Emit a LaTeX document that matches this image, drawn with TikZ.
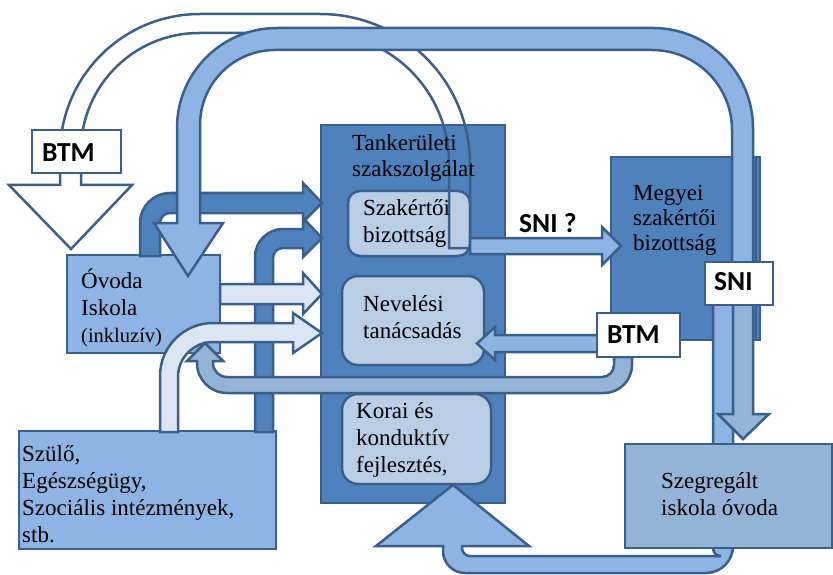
\documentclass[tikz,border=0pt]{standalone}
\usepackage{fontspec}
\setmainfont{Liberation Serif}
\newfontfamily\btmfont{Carlito}
\definecolor{bcol}{HTML}{3A5F8B}
\definecolor{dkb}{HTML}{4F81BD}
\definecolor{ltb}{HTML}{8EB4E3}
\definecolor{gyb}{HTML}{95B3D7}
\definecolor{inb}{HTML}{B9CDE5}
\definecolor{plb}{HTML}{DCE6F2}
\begin{document}
\begin{tikzpicture}[x=1pt,y=-1pt,
  bd/.style={draw=bcol, line width=2.5pt, line join=miter},
  txt/.style={anchor=base west, inner sep=0pt, align=left, font=\fontsize{23}{27}\selectfont},
  lbl/.style={anchor=base west, inner sep=0pt, font=\btmfont\bfseries\fontsize{27.5}{30}\selectfont}]
\useasboundingbox (0,0) rectangle (833,575);
% boxes
\draw[bd, fill=dkb] (321,125) rectangle (505,503);
\draw[bd, fill=inb, rounded corners=12pt] (348,191) rectangle (470,256);
\draw[bd, fill=inb, rounded corners=16pt] (342,276) rectangle (484,365);
\draw[bd, fill=inb, rounded corners=16pt] (342,394) rectangle (491,484);
\draw[bd, fill=dkb] (611,157) rectangle (760,340);
\draw[draw=bcol, line width=1.2pt] (756,157) -- (756,340);
% bottom U arrow
\draw[bd, fill=ltb] (713,300) -- (713,548) arc[start angle=180,end angle=90,radius=8]
  -- (470,556) arc[start angle=90,end angle=180,radius=8] -- (462,546) -- (529,546)
  -- (453,485) -- (376,546) -- (443,546) -- (443,551) arc[start angle=180,end angle=90,radius=22]
  -- (706,573) arc[start angle=90,end angle=0,radius=27] -- (733,300) -- cycle;
\draw[bd, fill=gyb] (625,444) rectangle (832,548);
\draw[bd, fill=ltb] (67,255) rectangle (220,353);
\draw[bd, fill=ltb] (19,431) rectangle (276,549);
% dark arrows
\draw[bd, fill=dkb] (140,256) -- (140,223) arc[start angle=180,end angle=270,radius=30]
  -- (303,193) -- (303,183) -- (322,203) -- (303,222) -- (303,213) -- (170,213)
  arc[start angle=270,end angle=180,radius=10] -- (160,256) -- cycle;
\draw[bd, fill=dkb] (255,432) -- (255,257) arc[start angle=180,end angle=270,radius=28]
  -- (303,229) -- (303,218) -- (322,238) -- (303,257) -- (303,248) -- (283,248)
  arc[start angle=270,end angle=180,radius=10] -- (273,432) -- cycle;
% pale arrows
\draw[bd, fill=plb] (220,284) -- (303,284) -- (303,273) -- (322,294) -- (303,314) -- (303,304) -- (220,304) -- cycle;
\draw[bd, fill=plb] (160,432) -- (160,376) arc[start angle=180,end angle=270,radius=53]
  -- (293,323) -- (293,313) -- (322,333) -- (293,353) -- (293,342) -- (213,342)
  arc[start angle=270,end angle=180,radius=35] -- (178,432) -- cycle;
% return arrow
\draw[bd, fill=gyb] (614,357) -- (614,365) arc[start angle=0,end angle=90,radius=12]
  -- (227,377) arc[start angle=90,end angle=180,radius=14] -- (213,361) -- (223,361)
  -- (205,343) -- (187,361) -- (197,361) -- (197,363) arc[start angle=180,end angle=90,radius=30]
  -- (604,393) arc[start angle=90,end angle=0,radius=28] -- (632,357) -- cycle;
% BTM -> Nevelesi
\draw[bd, fill=ltb] (598,335) -- (495,335) -- (495,327) -- (477,343.5) -- (495,360) -- (495,352) -- (598,352) -- cycle;
\draw[bd, fill=white] (597,313) rectangle (680,357);
% white outline arrow
\draw[bd] (81,185) -- (132,185) -- (71,249) -- (9,185) -- (60,185) -- (60,154)
  arc[start angle=180,end angle=270,radius=140] -- (320,14)
  arc[start angle=270,end angle=360,radius=150] -- (470,248) -- (449,248) -- (449,163)
  arc[start angle=0,end angle=-90,radius=130] -- (199,33)
  arc[start angle=270,end angle=180,radius=118] -- cycle;
% gray down arrow
\draw[bd, fill=gyb] (733,300) -- (733,414) -- (718,414) -- (743,439) -- (769,414) -- (753,414) -- (753,300) -- cycle;
% big light arrow
\draw[bd, fill=ltb] (188,276) -- (223,223) -- (200,223) -- (200,125)
  arc[start angle=180,end angle=270,radius=75] -- (652,50)
  arc[start angle=270,end angle=360,radius=80] -- (732,288) -- (753,288) -- (753,128)
  arc[start angle=0,end angle=-90,radius=100] -- (277,28)
  arc[start angle=270,end angle=180,radius=100] -- (177,223) -- (154,223) -- cycle;
\draw[bd, fill=white] (705,262) rectangle (773,305);
\draw[bd, fill=white] (32,130) rectangle (121,173);
% SNI ? arrow
\draw[bd, fill=ltb] (470,238) -- (602,238) -- (602,227) -- (621,246) -- (602,265) -- (602,254) -- (470,254) -- cycle;
% texts (anchor = baseline of the last line)
\node[txt] (t1) at (352,177) {Tankerületi\\szakszolgálat};
\node[txt] (t2) at (363,242) {Szakértői\\bizottság};
\node[txt] (t3) at (363,338) {Nevelési\\tanácsadás};
\node[txt] (t4) at (356,472) {Korai és\\konduktív\\fejlesztés,};
\node[txt, font=\fontsize{23}{25}\selectfont] (t5) at (633,250) {Megyei\\szakértői\\bizottság};
\node[txt] (t6) at (661,515) {Szegregált\\iskola óvoda};
\node[txt] (t7) at (81,342) {Óvoda\\Iskola\\{\fontsize{20.5}{27}\selectfont(inkluzív)}};
\node[txt] (t8) at (22,542) {Szülő,\\Egészségügy,\\Szociális intézmények,\\stb.};
\node[lbl] (l1) at (42,161) {BTM};
\node[lbl] (l2) at (714,290) {SNI};
\node[lbl] (l3) at (607,343) {BTM};
\node[lbl] (l4) at (519,233) {SNI ?};
\end{tikzpicture}
\end{document}
